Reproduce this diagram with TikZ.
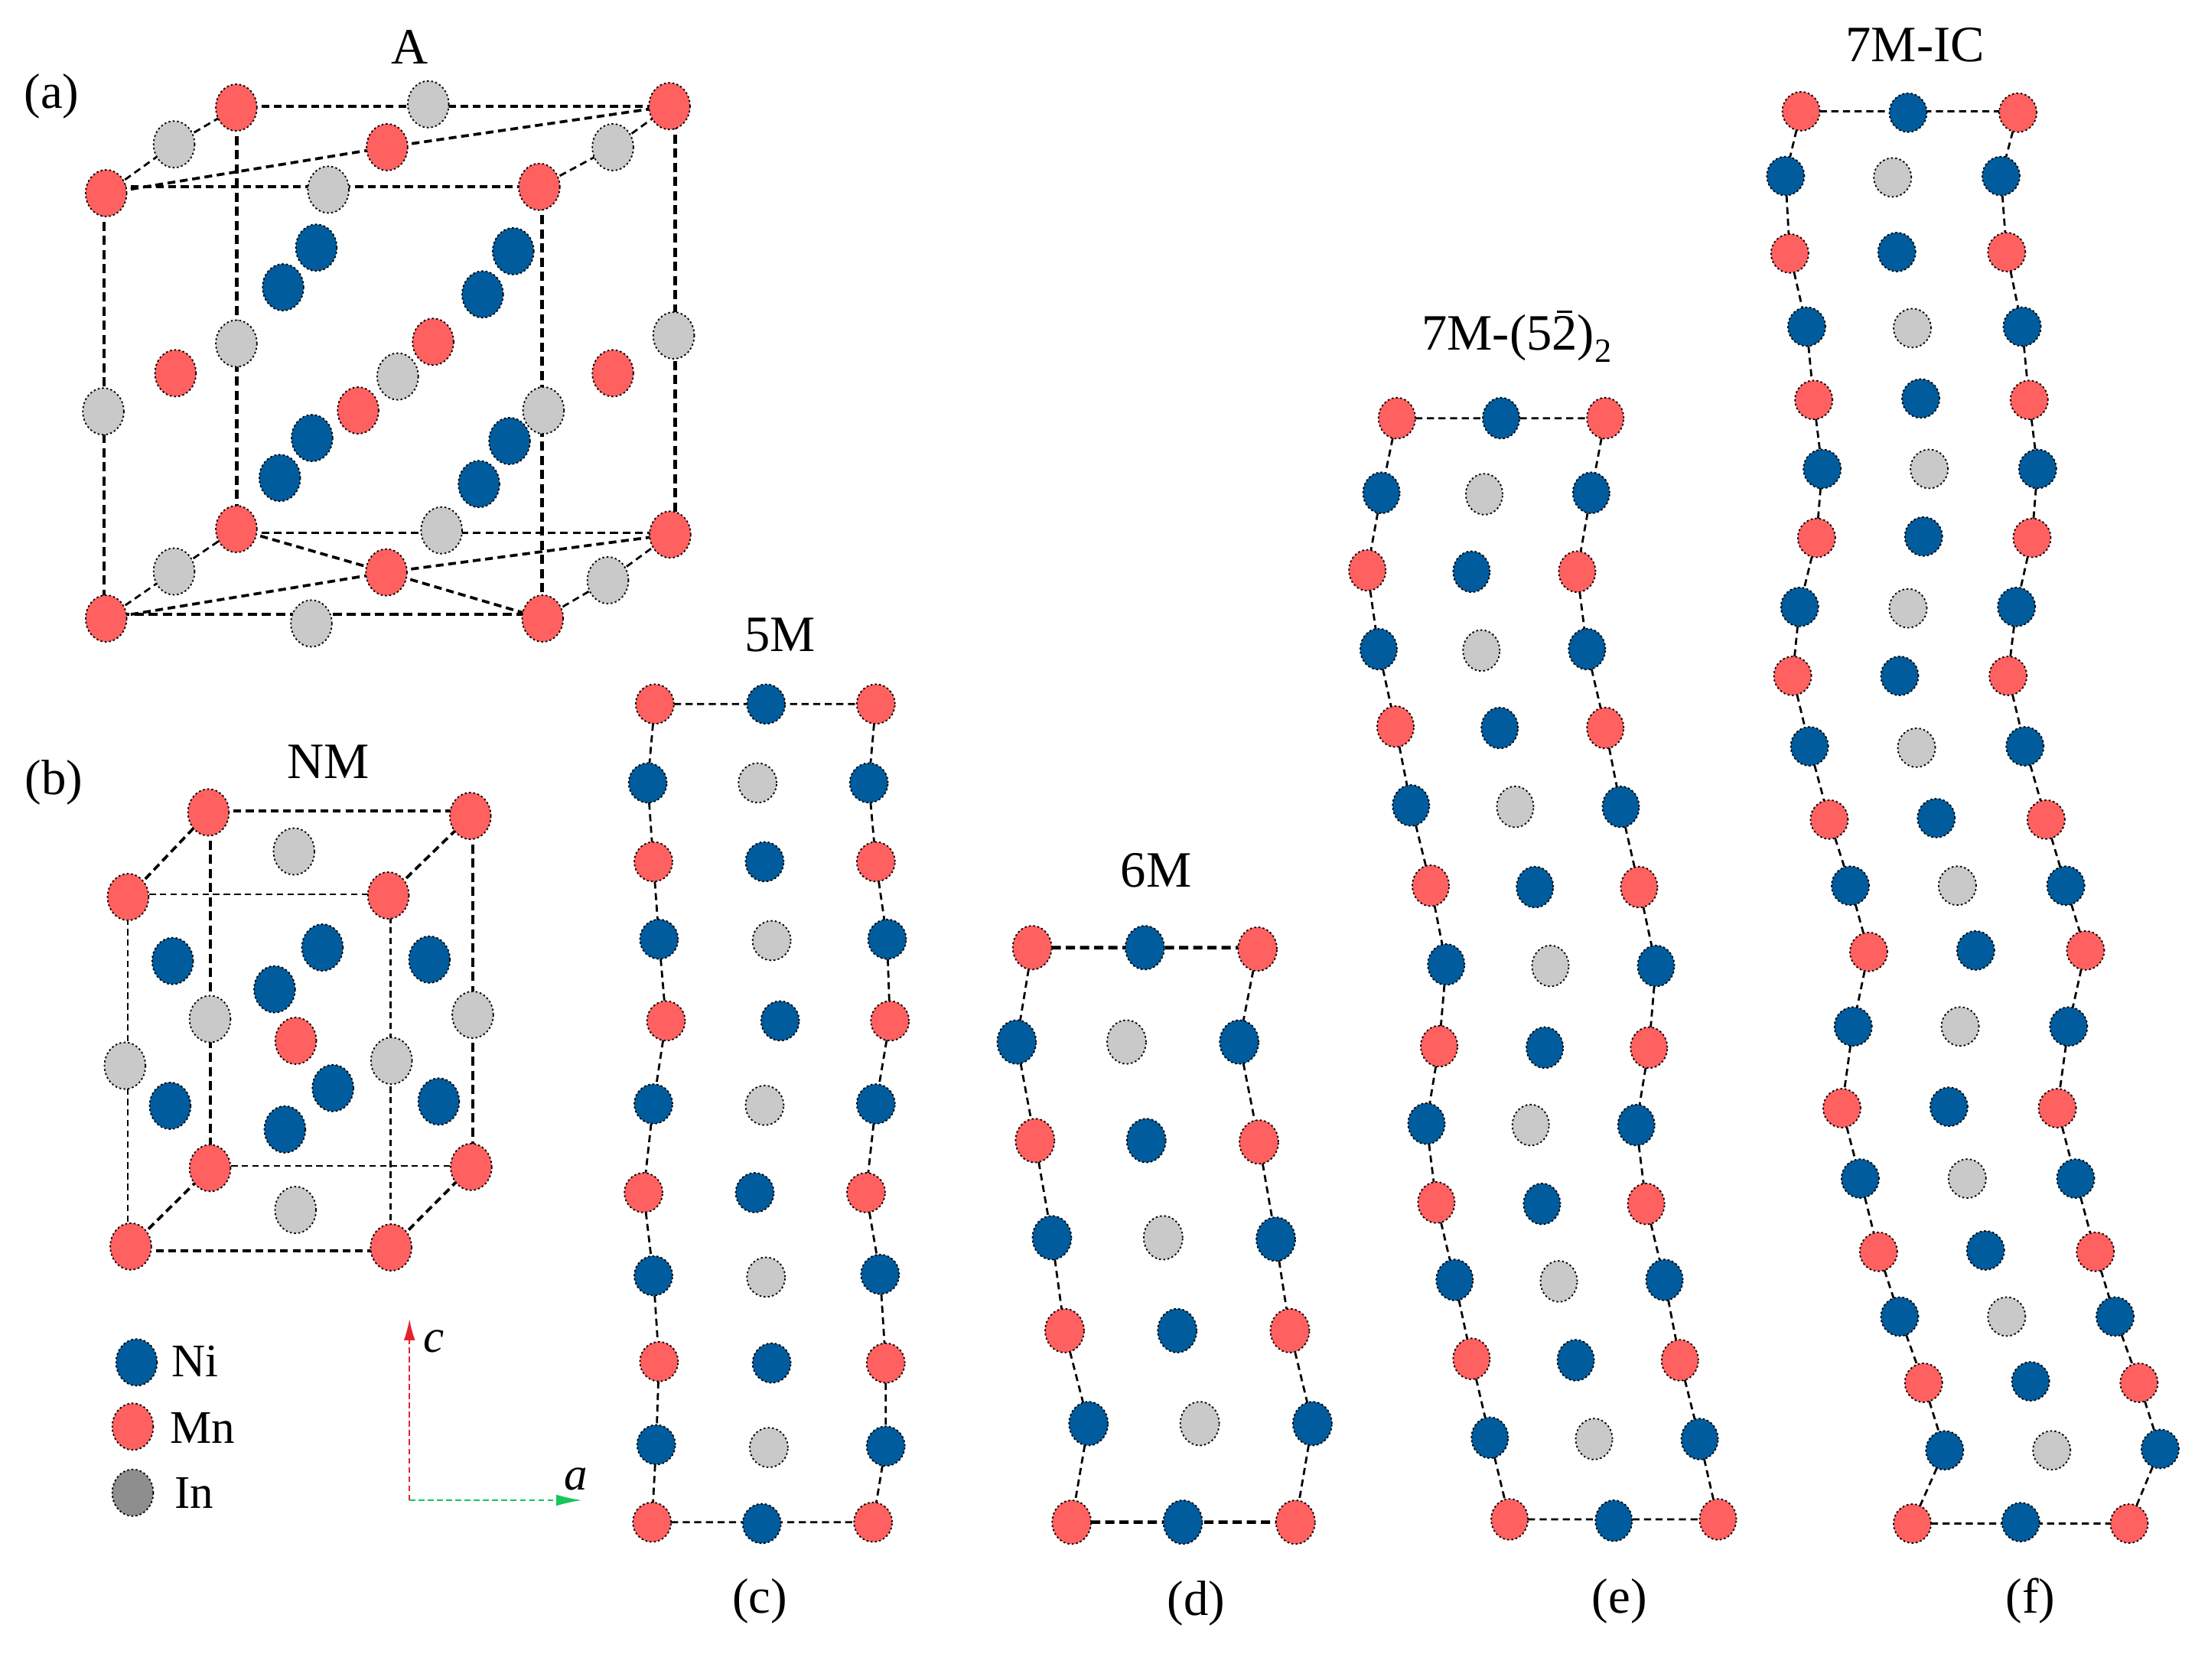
\documentclass[tikz,border=0pt]{standalone}
\usepackage{fontspec}
\setmainfont{Liberation Serif}
\usetikzlibrary{shapes.geometric,arrows.meta}
\pgfdeclarelayer{background}
\pgfsetlayers{background,main}
\definecolor{mnred}{HTML}{FF6060}
\definecolor{niblue}{HTML}{005C9C}
\definecolor{ingray}{HTML}{C9C9C9}
\definecolor{legendgray}{HTML}{8E8E8E}
\definecolor{axisred}{HTML}{E8202E}
\definecolor{axisgreen}{HTML}{14C85A}
\def\aw{29}\def\ah{33}
\tikzset{
  x=1pt,y=-1pt,
  atom/.style={ellipse,inner sep=0pt,outer sep=0pt,minimum width=\aw pt,minimum height=\ah pt,draw=black,line width=1pt,dash pattern=on 1.3pt off 1.7pt},
  atomR/.style={atom,fill=mnred},
  atomB/.style={atom,fill=niblue},
  atomG/.style={atom,fill=ingray},
  atomL/.style={atom,fill=legendgray},
  bond/.style={draw=black,line width=1.5pt,dash pattern=on 5pt off 3.2pt},
  bondmid/.style={draw=black,line width=2pt,dash pattern=on 5.5pt off 3.3pt},
  bondthin/.style={draw=black,line width=1.2pt,dash pattern=on 4.5pt off 3pt},
  bondthick/.style={draw=black,line width=2.5pt,dash pattern=on 6.5pt off 3.5pt},
  label/.style={font=\fontsize{35}{38}\selectfont,inner sep=0pt},
  title/.style={font=\fontsize{36}{39}\selectfont,inner sep=0pt},
  legendtext/.style={font=\fontsize{33}{36}\selectfont,inner sep=0pt},
  axislabel/.style={font=\fontsize{33}{36}\selectfont\itshape,inner sep=0pt},
  axisc/.style={draw=axisred,line width=1pt,dash pattern=on 4pt off 2.5pt,-{Latex[length=15pt,width=8pt]}},
  axisa/.style={draw=axisgreen,line width=1pt,dash pattern=on 4pt off 2.5pt,-{Latex[length=18pt,width=8pt]}},
}
\newcommand{\barredtwo}{\rlap{\kern.1em\raisebox{.72em}{\rule{.3em}{.05em}}}2}
\begin{document}
\begin{tikzpicture}
\useasboundingbox (0,0) rectangle (1560,1187);
\begin{pgfonlayer}{background}
\fill[white] (0,0) rectangle (1560,1187);
\end{pgfonlayer}

% Panel a
\foreach \n/\t/\x/\y in {
 atl/R/167/76, atr/R/473/75, afl/R/75/136.5, afr/R/381/132, atc/R/273.5/104,
 g1/G/123/102, g2/G/302.6/73.7, g3/G/433/104, g4/G/232/134,
 b1/B/223.5/175, b2/B/200/203, b3/B/362.6/177.5, b4/B/341/208,
 r1/R/306/241.5, r2/R/124/263.7, r3/R/253/290, r4/R/433/263.7,
 g5/G/167/242.7, g6/G/73/290.7, g7/G/281/266, g8/G/384/290, g9/G/476/237,
 b5/B/220.5/309.5, b6/B/197.7/337.7, b7/B/360/311.6, b8/B/338.4/342,
 abl/R/167/373.8, abr/R/473.5/377.7, abc/R/273/404.4, afbl/R/75/437, afbr/R/383.4/437,
 g10/G/123/403.8, g11/G/312/374.7, g12/G/429.5/410, g13/G/220/440.5}
 \node[atom\t] (a\n) at (\x,\y) {};
\coordinate (aV1) at (73.5,0);
\coordinate (aV2) at (167.3,0);
\coordinate (aV3) at (383,0);
\coordinate (aV4) at (477,0);
\coordinate (aH1) at (0,75);
\coordinate (aH2) at (0,132);
\coordinate (aH3) at (0,376.5);
\coordinate (aH4) at (0,434);
\begin{pgfonlayer}{background}
 \draw[bondthick] (aV1 |- aafl) -- (aV1 |- aafbl);
 \draw[bondthick] (aV2 |- aatl) -- (aV2 |- aabl);
 \draw[bondthick] (aV3 |- aafr) -- (aV3 |- aafbr);
 \draw[bondthick] (aV4 |- aatr) -- (aV4 |- aabr);
 \draw[bondthick] (aafbl |- aH4) -- (aafbr |- aH4);
 \draw[bondmid] (aatl |- aH1) -- (aatr |- aH1);
 \draw[bondmid] (aafl |- aH2) -- (aafr |- aH2);
 \draw[bondmid] (aabl |- aH3) -- (aabr |- aH3);
 \foreach \p/\q in {afl/atc, atc/atr, afbl/abc, abc/abr, abl/abc, abc/afbr}
  \draw[bondmid] (a\p.center) -- (a\q.center);
 \foreach \p/\q in {afl/g1, g1/atl, afr/g3, g3/atr, afbl/g10, g10/abl, afbr/g12, g12/abr}
  \draw[bond] (a\p.center) -- (a\q.center);
\end{pgfonlayer}

% Panel b
\foreach \n/\t/\x/\y in {
 tl/R/147.3/574, tr/R/332.3/576.5, fl/R/90.5/633.8, fr/R/274.4/632.7,
 g1/G/207.7/601.6,
 b1/B/122/679, b2/B/227.8/669.5, b3/B/194/699, b4/B/303.4/678,
 g2/G/148.4/720, g3/G/334/717, g4/G/88.3/753, g5/G/276.6/749.5,
 r1/R/209/735.4,
 b5/B/120.2/781.3, b6/B/235.2/768.8, b7/B/201.3/798, b8/B/310/778.3,
 bl/R/148.4/825.3, br/R/332.9/824.5, ffl/R/92.4/880.7, ffr/R/276.3/881.4,
 g6/G/208.8/854.9}
 \node[atom\t] (n\n) at (\x,\y) {};
\coordinate (nV1) at (90.2,0);
\coordinate (nV2) at (148.6,0);
\coordinate (nV3) at (276,0);
\coordinate (nV4) at (334,0);
\coordinate (nH1) at (0,572.8);
\coordinate (nH2) at (0,631.9);
\coordinate (nH3) at (0,823.8);
\coordinate (nH4) at (0,883.7);
\begin{pgfonlayer}{background}
 \draw[bondthin] (nV1 |- nfl) -- (nV1 |- nffl);
 \draw[bondthick] (nV2 |- ntl) -- (nV2 |- nbl);
 \draw[bondthin] (nV3 |- nfr) -- (nV3 |- nffr);
 \draw[bondthick] (nV4 |- ntr) -- (nV4 |- nbr);
 \draw[bondmid] (ntl |- nH1) -- (ntr |- nH1);
 \draw[bondthin] (nfl |- nH2) -- (nfr |- nH2);
 \draw[bondthin] (nbl |- nH3) -- (nbr |- nH3);
 \draw[bondmid] (nffl |- nH4) -- (nffr |- nH4);
 \foreach \p/\q in {fl/tl, fr/tr, ffl/bl, ffr/br}
  \draw[bondmid] (n\p.center) -- (n\q.center);
\end{pgfonlayer}

% Legend
\node[atomB] (legNi) at (96.5,962.6) {};
\node[atomR] (legMn) at (93.8,1008) {};
\node[atomL] (legIn) at (93.8,1054.7) {};
\node[legendtext] (txtNi) at (138,962) {Ni};
\node[legendtext] (txtMn) at (143,1009) {Mn};
\node[legendtext] (txtIn) at (137,1055) {In};

% Axes
\coordinate (origin) at (289.3,1060);
\coordinate (ctip) at (289.3,932);
\coordinate (atip) at (411,1060);
\draw[axisc] (origin) -- (ctip);
\draw[axisa] (origin) -- (atip);
\node[axislabel] (txtc) at (306.7,948) {c};
\node[axislabel] (txta) at (406.8,1045) {a};

\begin{scope}[scale=0.9949]
% Panel c (5M)
\def\aw{27}\def\ah{28}
\foreach \i/\ta/\xa/\ya/\tb/\xb/\yb/\tc/\xc/\yc in {
 1/R/465/500/B/544/500/R/622/500,
 2/B/460/556/G/538/556/B/617/556,
 3/R/464/612/B/543/612/R/622/612,
 4/B/468/667/G/548/668/B/630/667,
 5/R/473/725/B/554/725/R/632/725,
 6/B/464/784/G/543/785/B/622/784,
 7/R/457/847/B/536/847/R/615/847,
 8/B/464/906/G/544/907/B/625/905,
 9/R/468/967/B/548/968/R/629/968,
 10/B/466/1026/G/546/1028/B/629/1027,
 11/R/463/1081/B/541/1082/R/620/1081}{
 \node[atom\ta] (c\i l) at (\xa,\ya) {};
 \node[atom\tb] (c\i m) at (\xb,\yb) {};
 \node[atom\tc] (c\i r) at (\xc,\yc) {};
}
\foreach \i [evaluate=\i as \j using int(\i+1)] in {1,...,10}{
 \draw[bond] (c\i l) -- (c\j l);
 \draw[bond] (c\i r) -- (c\j r);
}
\begin{pgfonlayer}{background}
\foreach \i in {1,11}
 \draw[bond] (c\i l) -- (c\i l -| c\i r);
\end{pgfonlayer}

% Panel d (6M)
\def\aw{27.5}\def\ah{31}
\foreach \i/\ta/\xa/\ya/\tb/\xb/\yb/\tc/\xc/\yc in {
 1/R/733/673/B/813/673/R/893/674,
 2/B/722/740/G/800/740/B/880/740,
 3/R/735/810/B/814/810/R/894/811,
 4/B/747/879/G/826/879/B/906/880,
 5/R/756/945/B/836/945/R/916/945,
 6/B/773/1011/G/852/1011/B/932/1011,
 7/R/761/1081/B/840/1081/R/920/1081}{
 \node[atom\ta] (d\i l) at (\xa,\ya) {};
 \node[atom\tb] (d\i m) at (\xb,\yb) {};
 \node[atom\tc] (d\i r) at (\xc,\yc) {};
}
\foreach \i [evaluate=\i as \j using int(\i+1)] in {1,...,6}{
 \draw[bond] (d\i l) -- (d\j l);
 \draw[bond] (d\i r) -- (d\j r);
}
\begin{pgfonlayer}{background}
\foreach \i in {1,7}
 \draw[bondthick] (d\i l) -- (d\i l -| d\i r);
\end{pgfonlayer}

% Panel e (7M-(52)2)
\def\aw{26}\def\ah{29}
\foreach \i/\ta/\xa/\ya/\tb/\xb/\yb/\tc/\xc/\yc in {
 1/R/992/297/B/1066/297/R/1140/297,
 2/B/981/350/G/1054/351/B/1130/350,
 3/R/971/405/B/1045/406/R/1120/406,
 4/B/979/461/G/1052/462/B/1127/461,
 5/R/991/516/B/1065/517/R/1140/517,
 6/B/1002/572/G/1076/573/B/1151/573,
 7/R/1016/629/B/1090/630/R/1164/630,
 8/B/1027/685/G/1101/686/B/1176/686,
 9/R/1022/743/B/1097/744/R/1171/744,
 10/B/1013/798/G/1087/799/B/1162/799,
 11/R/1020/854/B/1095/855/R/1169/855,
 12/B/1033/909/G/1107/910/B/1182/909,
 13/R/1045/965/B/1119/966/R/1193/966,
 14/B/1058/1021/G/1132/1022/B/1207/1022,
 15/R/1072/1079/B/1146/1080/R/1220/1079}{
 \node[atom\ta] (e\i l) at (\xa,\ya) {};
 \node[atom\tb] (e\i m) at (\xb,\yb) {};
 \node[atom\tc] (e\i r) at (\xc,\yc) {};
}
\foreach \i [evaluate=\i as \j using int(\i+1)] in {1,...,14}{
 \draw[bond] (e\i l) -- (e\j l);
 \draw[bond] (e\i r) -- (e\j r);
}
\begin{pgfonlayer}{background}
\foreach \i in {1,15}
 \draw[bond] (e\i l) -- (e\i l -| e\i r);
\end{pgfonlayer}

% Panel f (7M-IC)
\def\aw{26.5}\def\ah{27.5}
\foreach \i/\ta/\xa/\ya/\tb/\xb/\yb/\tc/\xc/\yc in {
 1/R/1279/79/B/1355/80/R/1433/80,
 2/B/1268/125/G/1344/126/B/1421/125,
 3/R/1271/180/B/1347/179/R/1425/179,
 4/B/1283/232/G/1358/233/B/1436/232,
 5/R/1288/284/B/1364/283/R/1441/284,
 6/B/1294/333/G/1370/333/B/1447/333,
 7/R/1290/382/B/1366/381/R/1443/382,
 8/B/1278/431/G/1355/432/B/1432/431,
 9/R/1273/480/B/1349/480/R/1426/480,
 10/B/1285/530/G/1361/531/B/1438/530,
 11/R/1299/582/B/1375/581/R/1453/582,
 12/B/1314/629/G/1390/629/B/1467/629,
 13/R/1327/676/B/1403/675/R/1481/675,
 14/B/1316/729/G/1392/729/B/1469/729,
 15/R/1308/787/B/1384/786/R/1461/787,
 16/B/1321/837/G/1397/837/B/1474/837,
 17/R/1334/889/B/1410/888/R/1488/889,
 18/B/1349/935/G/1425/935/B/1502/935,
 19/R/1366/982/B/1442/981/R/1519/982,
 20/B/1381/1030/G/1457/1030/B/1534/1029,
 21/R/1358/1082/B/1435/1081/R/1512/1082}{
 \node[atom\ta] (f\i l) at (\xa,\ya) {};
 \node[atom\tb] (f\i m) at (\xb,\yb) {};
 \node[atom\tc] (f\i r) at (\xc,\yc) {};
}
\foreach \i [evaluate=\i as \j using int(\i+1)] in {1,...,20}{
 \draw[bond] (f\i l) -- (f\j l);
 \draw[bond] (f\i r) -- (f\j r);
}
\begin{pgfonlayer}{background}
\foreach \i in {1,21}
 \draw[bond] (f\i l) -- (f\i l -| f\i r);
\end{pgfonlayer}

% Labels of panels c to f
\node[title] (t5M) at (554,451) {5M};
\node[title] (t6M) at (821,618) {6M};
\node[title] (t7M) at (1077,239) {7M-(5\barredtwo)\raisebox{-.25em}{\fontsize{24}{26}\selectfont 2}};
\node[title] (t7MIC) at (1360,32) {7M-IC};
\node[label] (lc) at (539.5,1137) {(c)};
\node[label] (ld) at (849.5,1138.5) {(d)};
\node[label] (le) at (1150,1137) {(e)};
\node[label] (lf) at (1442,1137) {(f)};
\end{scope}

% Labels of panels a and b
\node[title] (tA) at (289.5,33) {A};
\node[title] (tNM) at (232,538) {NM};
\node[label] (la) at (36.5,68) {(a)};
\node[label] (lb) at (38,553) {(b)};
\end{tikzpicture}
\end{document}
